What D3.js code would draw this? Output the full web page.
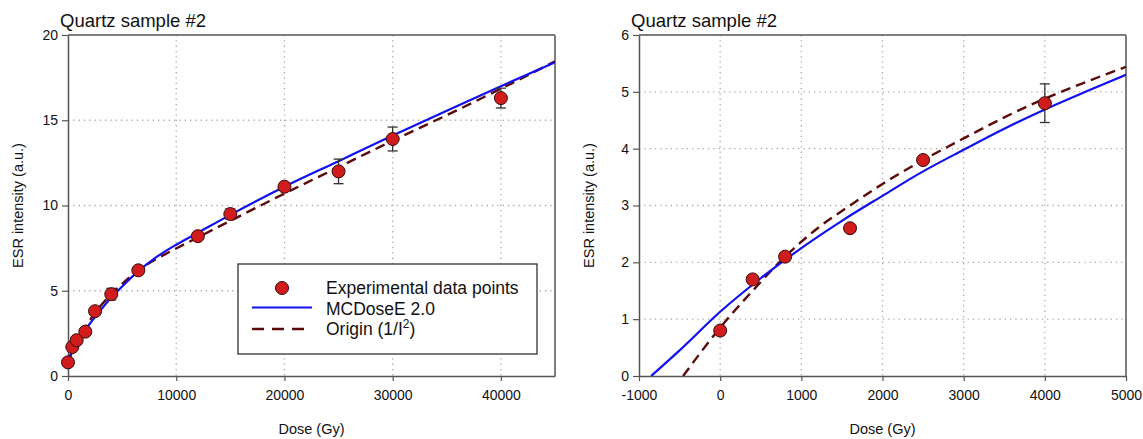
<!DOCTYPE html>
<html>
<head>
<meta charset="utf-8">
<script src="https://cdn.jsdelivr.net/npm/d3@7"></script>
<style>
  body { margin: 0; background: #fff; }
  svg { font-family: "Liberation Sans", Arial, sans-serif; }
</style>
</head>
<body>
<svg id="chart" width="1143" height="439"></svg>
<script>
// Messpunkte (Dosis in Gy, ESR-Intensität, Fehler)
var doses = [0, 400, 800, 1600, 2500, 4000, 6500, 12000, 15000, 20000, 25000, 30000, 40000];
var intensities = [0.8, 1.7, 2.1, 2.6, 3.8, 4.8, 6.2, 8.2, 9.5, 11.1, 12.0, 13.9, 16.3];
var errors = [0.05, 0.05, 0.05, 0.05, 0.05, 0.34, 0.1, 0.1, 0.3, 0.2, 0.72, 0.7, 0.58];

// Fit MCDoseE 2.0
var mcLeftDose = [0, 500, 1000, 2000, 3000, 4000, 5000, 6500, 8000, 10000, 12000, 15000, 20000, 25000, 30000, 35000, 40000, 45000];
var mcLeftVal = [0.9, 1.6, 2.15, 3.05, 3.85, 4.6, 5.25, 6.15, 6.9, 7.7, 8.4, 9.45, 11.1, 12.6, 14.1, 15.55, 17.0, 18.4];
// Fit Origin (1/I^2)
var orLeftDose = [0, 500, 1000, 1500, 2000, 2500, 3000, 4000, 5000, 6500, 8000, 10000, 12000, 15000, 20000, 25000, 30000, 35000, 40000, 45000];
var orLeftVal = [0.8, 1.6, 2.2, 2.75, 3.25, 3.7, 4.1, 4.8, 5.4, 6.2, 6.8, 7.48, 8.13, 9.1, 10.7, 12.25, 13.8, 15.3, 16.85, 18.45];

var mcRightDose = [-850, -500, 0, 500, 1000, 1500, 2000, 2500, 3000, 3500, 4000, 4500, 5000];
var mcRightVal = [0, 0.45, 1.13, 1.72, 2.25, 2.73, 3.17, 3.6, 3.98, 4.35, 4.69, 5.0, 5.3];
var orRightDose = [-457, 0, 400, 800, 1200, 1600, 2000, 2500, 3000, 3500, 4000, 4500, 5000];
var orRightVal = [0, 0.85, 1.5, 2.1, 2.6, 3.0, 3.38, 3.8, 4.18, 4.55, 4.88, 5.17, 5.44];

var leftXTicks = [0, 10000, 20000, 30000, 40000];
var leftYTicks = [0, 5, 10, 15, 20];
var rightXTicks = [-1000, 0, 1000, 2000, 3000, 4000, 5000];
var rightYTicks = [0, 1, 2, 3, 4, 5, 6];

var legendLabels = ['Experimental data points', 'MCDoseE 2.0', 'Origin (1/I'];

var svg = d3.select('#chart');

function zip(xs, ys) {
  return xs.map(function(x, i) { return [x, ys[i]]; });
}

// Ein Diagramm zeichnen
function drawPanel(cfg) {
  var x = d3.scaleLinear().domain(cfg.xDomain).range([cfg.left, cfg.right]);
  var y = d3.scaleLinear().domain(cfg.yDomain).range([cfg.bottom, cfg.top]);
  var g = svg.append('g');

  var clipId = 'clip' + cfg.id;
  g.append('clipPath').attr('id', clipId)
    .append('rect')
    .attr('x', cfg.left).attr('y', cfg.top)
    .attr('width', cfg.right - cfg.left).attr('height', cfg.bottom - cfg.top);

  // Gitterlinien
  g.selectAll('.gx').data(cfg.xTicks.filter(function(t) { return x(t) > cfg.left + 2 && x(t) < cfg.right - 2; }))
    .enter().append('line')
    .attr('x1', function(d) { return x(d); }).attr('x2', function(d) { return x(d); })
    .attr('y1', cfg.top).attr('y2', cfg.bottom)
    .attr('stroke', '#aaa').attr('stroke-width', 1.3).attr('stroke-dasharray', '1.3,4');
  g.selectAll('.gy').data(cfg.yTicks.filter(function(t) { return y(t) > cfg.top + 2 && y(t) < cfg.bottom - 2; }))
    .enter().append('line')
    .attr('y1', function(d) { return y(d); }).attr('y2', function(d) { return y(d); })
    .attr('x1', cfg.left).attr('x2', cfg.right)
    .attr('stroke', '#aaa').attr('stroke-width', 1.3).attr('stroke-dasharray', '1.3,4');

  // Achsen (Bindestrich statt Minuszeichen)
  var fmt = function(d) { return String(d); };
  var xAxis = g.append('g').attr('transform', 'translate(0,' + cfg.bottom + ')')
    .call(d3.axisBottom(x).tickValues(cfg.xTicks).tickSize(5).tickSizeOuter(0).tickPadding(9).tickFormat(fmt));
  var yAxis = g.append('g').attr('transform', 'translate(' + cfg.left + ',0)')
    .call(d3.axisLeft(y).tickValues(cfg.yTicks).tickSize(6).tickSizeOuter(0).tickPadding(4).tickFormat(fmt));
  [xAxis, yAxis].forEach(function(a) {
    a.select('.domain').attr('stroke', '#555').attr('stroke-width', 1.5);
    a.selectAll('.tick line').attr('stroke', '#555').attr('stroke-width', 1.2);
    a.selectAll('.tick text').attr('fill', '#111').style('font-size', '14px');
  });
  // Rahmen oben und rechts
  g.append('line').attr('x1', cfg.left).attr('x2', cfg.right).attr('y1', cfg.top).attr('y2', cfg.top)
    .attr('stroke', '#555').attr('stroke-width', 1.5);
  g.append('line').attr('x1', cfg.right).attr('x2', cfg.right).attr('y1', cfg.top).attr('y2', cfg.bottom)
    .attr('stroke', '#555').attr('stroke-width', 1.5);

  // Kurven
  var line = d3.line().curve(d3.curveMonotoneX)
    .x(function(d) { return x(d[0]); }).y(function(d) { return y(d[1]); });
  var curves = g.append('g').attr('clip-path', 'url(#' + clipId + ')');
  curves.append('path').datum(zip(cfg.orDose, cfg.orVal))
    .attr('d', line).attr('fill', 'none')
    .attr('stroke', '#5c0a0a').attr('stroke-width', 2.4).attr('stroke-dasharray', '10,6');
  curves.append('path').datum(zip(cfg.mcDose, cfg.mcVal))
    .attr('d', line).attr('fill', 'none')
    .attr('stroke', '#1010f0').attr('stroke-width', 2.2);

  // Fehlerbalken
  var pts = doses.map(function(d, i) { return { d: d, v: intensities[i], e: errors[i] }; })
    .filter(function(p) { return p.d >= cfg.xDomain[0] && p.d <= cfg.xDomain[1]; });
  var eb = g.append('g').selectAll('g').data(pts).enter().append('g')
    .attr('stroke', '#333').attr('stroke-width', 1.3);
  eb.append('line')
    .attr('x1', function(p) { return x(p.d); }).attr('x2', function(p) { return x(p.d); })
    .attr('y1', function(p) { return y(p.v + p.e); }).attr('y2', function(p) { return y(p.v - p.e); });
  eb.append('line')
    .attr('x1', function(p) { return x(p.d) - 5; }).attr('x2', function(p) { return x(p.d) + 5; })
    .attr('y1', function(p) { return y(p.v + p.e); }).attr('y2', function(p) { return y(p.v + p.e); });
  eb.append('line')
    .attr('x1', function(p) { return x(p.d) - 5; }).attr('x2', function(p) { return x(p.d) + 5; })
    .attr('y1', function(p) { return y(p.v - p.e); }).attr('y2', function(p) { return y(p.v - p.e); });

  // Punkte
  g.append('g').selectAll('circle').data(pts).enter().append('circle')
    .attr('cx', function(p) { return x(p.d); }).attr('cy', function(p) { return y(p.v); })
    .attr('r', 6.5).attr('fill', '#d01c1c').attr('stroke', '#3a0a0a').attr('stroke-width', 1);

  // Titel und Achsenbeschriftung
  g.append('text').attr('x', cfg.left - 8).attr('y', 27).style('font-size', '18.5px').attr('fill', '#111')
    .text('Quartz sample #2');
  g.append('text').attr('x', (cfg.left + cfg.right) / 2).attr('y', 434)
    .attr('text-anchor', 'middle').style('font-size', '14.5px').attr('fill', '#111').text('Dose (Gy)');
  g.append('text').attr('transform', 'translate(' + (cfg.left - 45) + ',' + ((cfg.top + cfg.bottom) / 2) + ') rotate(-90)')
    .attr('text-anchor', 'middle').style('font-size', '14.5px').attr('fill', '#111').text('ESR intensity (a.u.)');

  return { x: x, y: y, g: g };
}

drawPanel({
  id: 'L', left: 68, right: 555, top: 35, bottom: 376,
  xDomain: [0, 45000], yDomain: [0, 20],
  xTicks: leftXTicks, yTicks: leftYTicks,
  mcDose: mcLeftDose, mcVal: mcLeftVal, orDose: orLeftDose, orVal: orLeftVal
});

drawPanel({
  id: 'R', left: 639, right: 1126, top: 35, bottom: 376,
  xDomain: [-1000, 5000], yDomain: [0, 6],
  xTicks: rightXTicks, yTicks: rightYTicks,
  mcDose: mcRightDose, mcVal: mcRightVal, orDose: orRightDose, orVal: orRightVal
});

// Legende
var lg = svg.append('g');
lg.append('rect').attr('x', 238).attr('y', 264).attr('width', 299).attr('height', 90)
  .attr('fill', '#fff').attr('stroke', '#333').attr('stroke-width', 1.3);
lg.append('circle').attr('cx', 282).attr('cy', 288).attr('r', 6.5)
  .attr('fill', '#d01c1c').attr('stroke', '#3a0a0a').attr('stroke-width', 1);
lg.append('line').attr('x1', 252).attr('x2', 312).attr('y1', 307.5).attr('y2', 307.5)
  .attr('stroke', '#1010f0').attr('stroke-width', 2.2);
lg.append('line').attr('x1', 252).attr('x2', 312).attr('y1', 329).attr('y2', 329)
  .attr('stroke', '#5c0a0a').attr('stroke-width', 2.4).attr('stroke-dasharray', '12,8');
lg.selectAll('text.lab').data(legendLabels).enter().append('text')
  .attr('x', 326).attr('y', function(d, i) { return 294 + i * 20.5; })
  .style('font-size', '17.5px').attr('fill', '#111')
  .each(function(d, i) {
    var t = d3.select(this);
    t.append('tspan').text(d);
    if (i === 2) {
      t.append('tspan').attr('dy', -7).style('font-size', '12px').text('2');
      t.append('tspan').attr('dy', 7).text(')');
    }
  });
</script>
</body>
</html>
